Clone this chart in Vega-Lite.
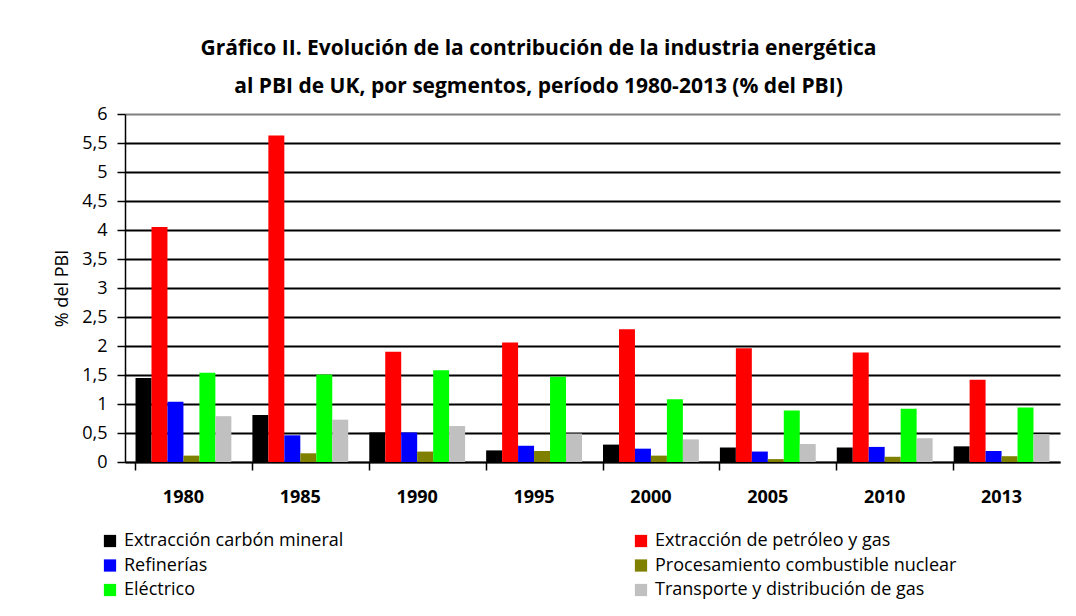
{
  "$schema": "https://vega.github.io/schema/vega-lite/v6.json",
  "width": 935,
  "height": 348,
  "autosize": {"type": "none"},
  "padding": {"left": 125, "top": 114, "right": 16, "bottom": 154},
  "background": "white",
  "title": {
    "text": ["Gráfico II. Evolución de la contribución de la industria energética", "al PBI de UK, por segmentos, período 1980-2013 (% del PBI)"],
    "font": "Open Sans",
    "fontSize": 21,
    "fontWeight": "bold",
    "color": "black",
    "anchor": "middle",
    "lineHeight": 38,
    "offset": 8,
    "dx": -54
  },
  "data": {
    "values": [
      {"year": "1980", "serie": "Extracción carbón mineral", "v": 1.45},
      {"year": "1980", "serie": "Extracción de petróleo y gas", "v": 4.05},
      {"year": "1980", "serie": "Refinerías", "v": 1.04},
      {"year": "1980", "serie": "Procesamiento combustible nuclear", "v": 0.11},
      {"year": "1980", "serie": "Eléctrico", "v": 1.54},
      {"year": "1980", "serie": "Transporte y distribución de gas", "v": 0.79},
      {"year": "1985", "serie": "Extracción carbón mineral", "v": 0.81},
      {"year": "1985", "serie": "Extracción de petróleo y gas", "v": 5.63},
      {"year": "1985", "serie": "Refinerías", "v": 0.46},
      {"year": "1985", "serie": "Procesamiento combustible nuclear", "v": 0.15},
      {"year": "1985", "serie": "Eléctrico", "v": 1.51},
      {"year": "1985", "serie": "Transporte y distribución de gas", "v": 0.73},
      {"year": "1990", "serie": "Extracción carbón mineral", "v": 0.51},
      {"year": "1990", "serie": "Extracción de petróleo y gas", "v": 1.9},
      {"year": "1990", "serie": "Refinerías", "v": 0.51},
      {"year": "1990", "serie": "Procesamiento combustible nuclear", "v": 0.18},
      {"year": "1990", "serie": "Eléctrico", "v": 1.58},
      {"year": "1990", "serie": "Transporte y distribución de gas", "v": 0.62},
      {"year": "1995", "serie": "Extracción carbón mineral", "v": 0.2},
      {"year": "1995", "serie": "Extracción de petróleo y gas", "v": 2.06},
      {"year": "1995", "serie": "Refinerías", "v": 0.28},
      {"year": "1995", "serie": "Procesamiento combustible nuclear", "v": 0.19},
      {"year": "1995", "serie": "Eléctrico", "v": 1.47},
      {"year": "1995", "serie": "Transporte y distribución de gas", "v": 0.49},
      {"year": "2000", "serie": "Extracción carbón mineral", "v": 0.3},
      {"year": "2000", "serie": "Extracción de petróleo y gas", "v": 2.29},
      {"year": "2000", "serie": "Refinerías", "v": 0.23},
      {"year": "2000", "serie": "Procesamiento combustible nuclear", "v": 0.11},
      {"year": "2000", "serie": "Eléctrico", "v": 1.08},
      {"year": "2000", "serie": "Transporte y distribución de gas", "v": 0.39},
      {"year": "2005", "serie": "Extracción carbón mineral", "v": 0.25},
      {"year": "2005", "serie": "Extracción de petróleo y gas", "v": 1.96},
      {"year": "2005", "serie": "Refinerías", "v": 0.18},
      {"year": "2005", "serie": "Procesamiento combustible nuclear", "v": 0.05},
      {"year": "2005", "serie": "Eléctrico", "v": 0.89},
      {"year": "2005", "serie": "Transporte y distribución de gas", "v": 0.31},
      {"year": "2010", "serie": "Extracción carbón mineral", "v": 0.25},
      {"year": "2010", "serie": "Extracción de petróleo y gas", "v": 1.89},
      {"year": "2010", "serie": "Refinerías", "v": 0.26},
      {"year": "2010", "serie": "Procesamiento combustible nuclear", "v": 0.09},
      {"year": "2010", "serie": "Eléctrico", "v": 0.92},
      {"year": "2010", "serie": "Transporte y distribución de gas", "v": 0.41},
      {"year": "2013", "serie": "Extracción carbón mineral", "v": 0.27},
      {"year": "2013", "serie": "Extracción de petróleo y gas", "v": 1.42},
      {"year": "2013", "serie": "Refinerías", "v": 0.19},
      {"year": "2013", "serie": "Procesamiento combustible nuclear", "v": 0.1},
      {"year": "2013", "serie": "Eléctrico", "v": 0.94},
      {"year": "2013", "serie": "Transporte y distribución de gas", "v": 0.48}
    ]
  },
  "mark": {"type": "bar"},
  "encoding": {
    "x": {
      "field": "year",
      "type": "nominal",
      "scale": {"paddingInner": 0.18, "paddingOuter": 0.09},
      "axis": {
        "title": null,
        "labelAngle": 0,
        "labelFont": "Open Sans",
        "labelFontSize": 18,
        "labelFontWeight": "bold",
        "labelColor": "black",
        "labelPadding": 18,
        "bandPosition": 0,
        "tickSize": 8,
        "tickColor": "black",
        "tickWidth": 1.5,
        "domainColor": "black",
        "domainWidth": 1.5,
        "grid": false
      }
    },
    "xOffset": {
      "field": "serie",
      "type": "nominal",
      "sort": ["Extracción carbón mineral", "Extracción de petróleo y gas", "Refinerías", "Procesamiento combustible nuclear", "Eléctrico", "Transporte y distribución de gas"],
      "scale": {"paddingInner": 0, "paddingOuter": 0}
    },
    "y": {
      "field": "v",
      "type": "quantitative",
      "scale": {"domain": [0, 6], "nice": false},
      "axis": {
        "title": "% del PBI",
        "titleFont": "Open Sans",
        "titleFontSize": 18,
        "titleFontWeight": "normal",
        "titleColor": "black",
        "titlePadding": 10,
        "values": [0, 0.5, 1, 1.5, 2, 2.5, 3, 3.5, 4, 4.5, 5, 5.5, 6],
        "labelExpr": "replace(format(datum.value, '~g'), '.', ',')",
        "labelFont": "Open Sans",
        "labelFontSize": 18,
        "labelColor": "black",
        "labelPadding": 10,
        "tickSize": 8,
        "tickColor": "black",
        "tickWidth": 1.5,
        "domainColor": "black",
        "domainWidth": 1.5,
        "grid": true,
        "gridColor": {"condition": {"test": "datum.value == 6", "value": "#808080"}, "value": "black"},
        "gridWidth": 2
      }
    },
    "color": {
      "field": "serie",
      "type": "nominal",
      "scale": {
        "domain": ["Extracción carbón mineral", "Refinerías", "Eléctrico", "Extracción de petróleo y gas", "Procesamiento combustible nuclear", "Transporte y distribución de gas"],
        "range": ["#000000", "#0000FF", "#00FF00", "#FF0000", "#808000", "#C0C0C0"]
      },
      "legend": {
        "title": null,
        "orient": "none",
        "legendX": -24,
        "legendY": 418,
        "columns": 2,
        "columnPadding": 288,
        "rowPadding": 6.5,
        "symbolType": "square",
        "symbolSize": 150,
        "symbolStrokeWidth": 0,
        "labelFont": "Open Sans",
        "labelFontSize": 18,
        "labelColor": "black",
        "labelOffset": 5,
        "labelLimit": 400
      }
    }
  },
  "config": {
    "view": {"stroke": null}
  }
}
